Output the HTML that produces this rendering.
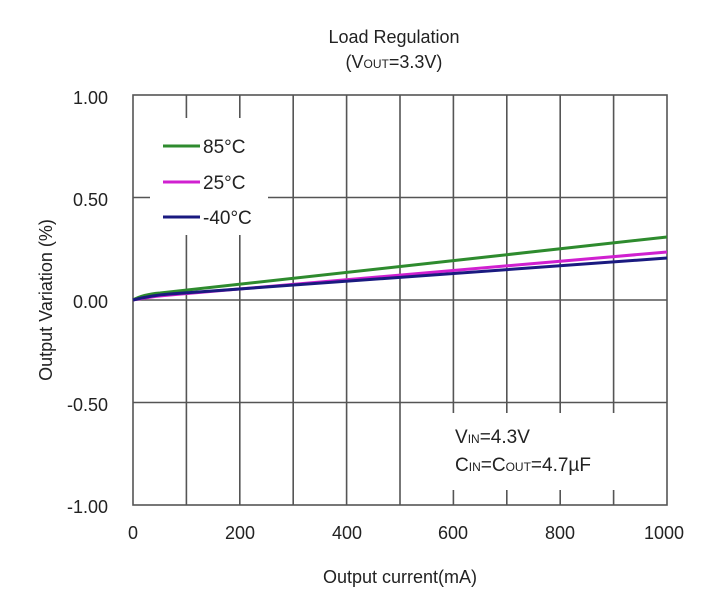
<!DOCTYPE html>
<html><head><style>
body{margin:0;background:#fff;width:712px;height:602px;overflow:hidden}
svg{font-family:"Liberation Sans",Arial,sans-serif}
</style></head><body>
<svg width="712" height="602" viewBox="0 0 712 602">
<rect width="712" height="602" fill="#fff"/>
<g stroke="#555" stroke-width="1.6" fill="none">
<line x1="186.4" y1="95" x2="186.4" y2="505"/>
<line x1="239.8" y1="95" x2="239.8" y2="505"/>
<line x1="293.2" y1="95" x2="293.2" y2="505"/>
<line x1="346.6" y1="95" x2="346.6" y2="505"/>
<line x1="400" y1="95" x2="400" y2="505"/>
<line x1="453.4" y1="95" x2="453.4" y2="505"/>
<line x1="506.8" y1="95" x2="506.8" y2="505"/>
<line x1="560.2" y1="95" x2="560.2" y2="505"/>
<line x1="613.6" y1="95" x2="613.6" y2="505"/>
<line x1="133" y1="197.5" x2="667" y2="197.5"/>
<line x1="133" y1="300" x2="667" y2="300"/>
<line x1="133" y1="402.5" x2="667" y2="402.5"/>
</g>
<rect x="150" y="118" width="118" height="117" fill="#fff"/>
<rect x="440" y="413" width="210" height="77" fill="#fff"/>
<rect x="133" y="95" width="534" height="410" fill="none" stroke="#555" stroke-width="1.6"/>
<g fill="none" stroke-width="3">
<path d="M133,300 C140,296 148,294 160,293 L667,237" stroke="#2e8b2e"/>
<path d="M133,300 C145,298 155,296 170,295 L667,252" stroke="#d020d0"/>
<path d="M133,300 C145,297 155,295 170,294 L667,258" stroke="#1a1a80"/>
</g>
<g stroke-width="3">
<line x1="163" y1="146" x2="200" y2="146" stroke="#2e8b2e"/>
<line x1="163" y1="182" x2="200" y2="182" stroke="#d020d0"/>
<line x1="163" y1="217" x2="200" y2="217" stroke="#1a1a80"/>
</g>
<g font-size="19" fill="#222">
<text x="203" y="153">85°C</text>
<text x="203" y="189">25°C</text>
<text x="203" y="224">-40°C</text>
<text x="455" y="443">V<tspan font-size="12">IN</tspan>=4.3V</text>
<text x="455" y="471">C<tspan font-size="12">IN</tspan>=C<tspan font-size="12">OUT</tspan>=4.7µF</text>
</g>
<g font-size="18" fill="#222" text-anchor="end">
<text x="108" y="104">1.00</text>
<text x="108" y="206">0.50</text>
<text x="108" y="308">0.00</text>
<text x="108" y="411">-0.50</text>
<text x="108" y="513">-1.00</text>
</g>
<g font-size="18" fill="#222" text-anchor="middle">
<text x="133" y="539">0</text>
<text x="240" y="539">200</text>
<text x="347" y="539">400</text>
<text x="453" y="539">600</text>
<text x="560" y="539">800</text>
<text x="664" y="539">1000</text>
<text x="400" y="583">Output current(mA)</text>
<text x="394" y="43">Load Regulation</text>
<text x="394" y="68">(V<tspan font-size="12">OUT</tspan>=3.3V)</text>
<text transform="translate(52,300) rotate(-90)">Output Variation (%)</text>
</g>
</svg>
</body></html>
